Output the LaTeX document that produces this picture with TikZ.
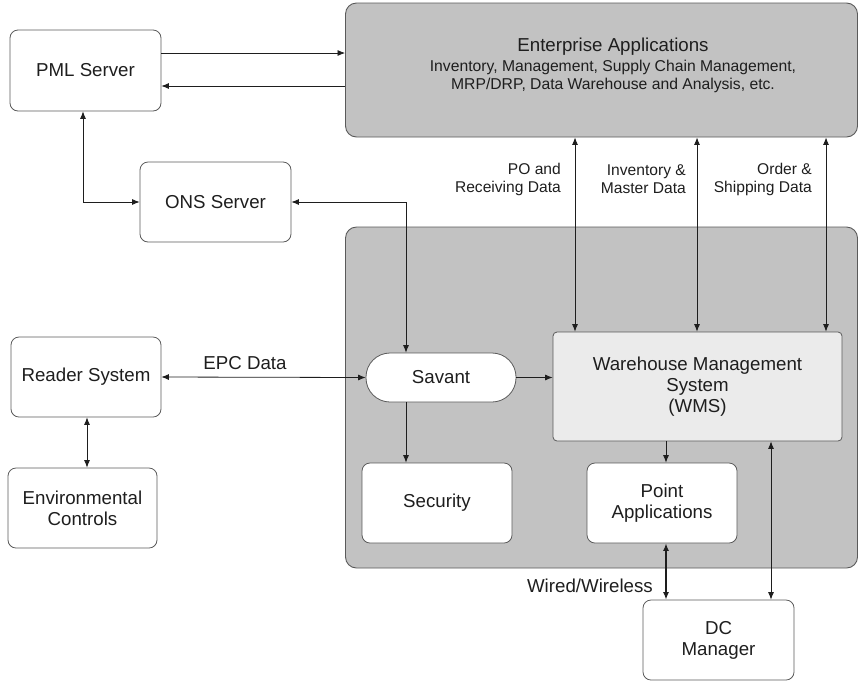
\documentclass[tikz,border=0pt]{standalone}
\usepackage{fontspec}
\setmainfont{Liberation Sans}
\usetikzlibrary{arrows.meta,calc}
\definecolor{panelgray}{HTML}{C2C2C2}
\definecolor{wmsgray}{HTML}{EBEBEB}
\definecolor{edgegray}{HTML}{5A5A5A}
\definecolor{inkgray}{HTML}{1E1E1E}
\tikzset{
  box/.style={draw=edgegray, line width=0.8pt, fill=white, rounded corners=8pt,
    align=center, text=inkgray, inner sep=0pt,
    font=\fontsize{18.7}{21}\selectfont},
  panel/.style={draw=edgegray, line width=0.9pt, fill=panelgray, rounded corners=11pt, inner sep=0pt},
  conn/.style={draw=inkgray, line width=0.8pt, -{Latex[length=7.5pt,width=6pt]}},
  conn2/.style={draw=inkgray, line width=0.8pt, {Latex[length=7.5pt,width=6pt]}-{Latex[length=7.5pt,width=6pt]}},
  lbl/.style={text=inkgray, align=right, inner sep=0pt, font=\fontsize{15.6}{18}\selectfont},
  biglbl/.style={text=inkgray, inner sep=0pt, font=\fontsize{18.7}{21}\selectfont},
}
\begin{document}
\begin{tikzpicture}[x=1pt,y=-1pt]
\useasboundingbox (0,0) rectangle (858,681);

% grey panels
\node[panel, minimum width=512, minimum height=134] (ent) at (601.5,70) {};
\node[text=inkgray, align=center, inner sep=0pt, anchor=north,
      font=\fontsize{15.7}{18}\selectfont] (entlabel) at (613,37.5)
  {{\fontsize{18.7}{18}\selectfont Enterprise Applications}\\[2pt]
   Inventory, Management, Supply Chain Management,\\
   MRP/DRP, Data Warehouse and Analysis, etc.};
\node[panel, minimum width=512, minimum height=341] (sys) at (601.5,397.5) {};

% boxes
\node[box, minimum width=151, minimum height=81] (pml) at (85.5,70.5) {PML Server};
\node[box, minimum width=151, minimum height=80] (ons) at (215.5,202) {ONS Server};
\node[box, minimum width=150, minimum height=80] (reader) at (86,377) {Reader System};
\node[box, minimum width=149, minimum height=80] (env) at (82.5,508) {Environmental\\Controls};
\node[box, minimum width=150, minimum height=49, rounded corners=24pt] (savant) at (441,377.5) {Savant};
\node[box, fill=wmsgray, rounded corners=4pt, minimum width=289, minimum height=109] (wms) at (697.5,386.5)
  {Warehouse Management\\System\\(WMS)};
\node[box, minimum width=150, minimum height=80] (security) at (437,503) {Security};
\node[box, minimum width=150, minimum height=80] (point) at (662,503) {Point\\Applications};
\node[box, minimum width=151, minimum height=80] (dc) at (718.5,640) {DC\\Manager};

% PML server <-> enterprise applications
\draw[conn] (pml.east |- 0,53) -- (ent.west |- 0,53);
\draw[conn] (ent.west |- 0,86) -- (pml.east |- 0,86);

% name services
\draw[conn2] (pml.south -| 83,0) |- (ons.west);
\draw[conn2] (ons.east) -| (savant.north -| 406,0);

% reader side
\draw[conn2] (reader.east) -- (savant.west);
\node[biglbl, anchor=south] (epc) at (245,370) {EPC Data};
\draw[conn2] (reader.south -| 87,0) -- (env.north -| 87,0);

% enterprise <-> WMS data flows
\draw[conn2] (ent.south -| 575,0) -- (wms.north -| 575,0);
\draw[conn2] (ent.south -| 697,0) -- (wms.north -| 697,0);
\draw[conn2] (ent.south -| 826,0) -- (wms.north -| 826,0);
\node[lbl, anchor=east] (po) at (561,179) {PO and\\Receiving Data};
\node[lbl, anchor=east] (inv) at (686,179) {Inventory \&\\Master Data};
\node[lbl, anchor=east] (ord) at (812,179) {Order \&\\Shipping Data};

% inside the warehouse system
\draw[conn] (savant.east) -- (wms.west |- savant.east);
\draw[conn] (savant.south -| 406,0) -- (security.north -| 406,0);
\draw[conn] (wms.south -| 666,0) -- (point.north -| 666,0);

% DC manager links
\draw[conn2, line width=1.3pt] (point.south -| 666,0) -- (dc.north -| 666,0);
\node[biglbl, anchor=east] (wired) at (653,586) {Wired/Wireless};
\draw[conn2] (wms.south -| 771,0) -- (dc.north -| 771,0);
\end{tikzpicture}
\end{document}
